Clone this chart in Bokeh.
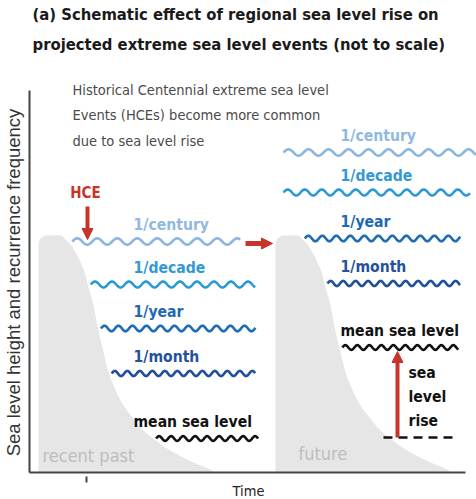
import numpy as np
from bokeh.plotting import figure
from bokeh.models import Range1d, Arrow, NormalHead
from bokeh.core.properties import value
from bokeh.embed import file_html
from bokeh.resources import INLINE

# ---- schematic values (height above the time axis, time along it) ----
levels = ["1/century", "1/decade", "1/year", "1/month", "mean sea level"]
past_height = [231, 188, 144, 99, 34]
future_height = [320, 280, 234, 189, 125]
old_mean_sea_level = 35
hce_height = 231
time_tick = [57]

# ---- styling ----
NARROW = "DejaVu Sans Condensed, Roboto Condensed, Roboto"
SANS = "Liberation Sans"
RED = "#c8342a"
wave_colors = ["#8cb6e1", "#2c9ad6", "#1f6cb3", "#224f9b", "#111111"]
label_colors = ["#8fb8e2", "#3399d6", "#1e69b1", "#24519d", "#111111"]
wave_length = [20, 17, 14, 12.5, 12]
wave_amp = [3.2, 3.0, 2.8, 2.6, 2.4]
past_end = [211, 226, 226, 226, 229]
future_end = [447, 441, 431, 431, 429]
SHADE = "#e6e6e6"
LABEL_SIZE = "15.6px"

p = figure(width=476, height=499, x_range=Range1d(-29, 447), y_range=Range1d(-27, 472),
           x_axis_type=None, y_axis_type=None, toolbar_location=None,
           output_backend="svg", min_border=0, outline_line_color=None)
p.grid.visible = False

# ---- grey "distribution" humps for the two periods ----
top = 237
prof_t = [0, 0.02, 0.077, 0.15, 0.22, 0.29, 0.365, 0.44, 0.51, 0.58, 0.655, 0.72,
          0.79, 0.83, 0.91, 0.97, 1.0]
prof_off = [20, 30, 38, 46, 50, 55, 58, 62, 66, 70, 77, 85, 98, 106, 132, 160, 182]


def edge(left, h):
    t = (top - h) / top
    return left + np.interp(t, prof_t, prof_off)


def hump(left):
    r = 9
    ang = np.linspace(np.pi, np.pi / 2, 12)
    xs = [left]
    ys = [0]
    xs += list(left + r + r * np.cos(ang))
    ys += list(top - r + r * np.sin(ang))
    t = np.linspace(0, 1, 160)
    off = np.interp(t, prof_t, prof_off)
    k = np.ones(9) / 9
    off_s = np.convolve(np.pad(off, 4, mode="edge"), k, mode="valid")
    xs += list(left + off_s)
    ys += list(top * (1 - t))
    return xs, ys


panels = [9, 246]
for left in panels:
    hx, hy = hump(left)
    p.patch(hx, hy, fill_color=SHADE, line_color=None)

p.text(x=[13, 269], y=[17, 19], text=["recent past", "future"], text_font=value(NARROW),
       text_font_size="18px", text_color="#bdbdbd", text_baseline="middle")

# ---- axes ----
p.line([0, 0], [0, 382], line_color="#444444", line_width=2)
p.line([0, 436], [0, 0], line_color="#444444", line_width=2)
p.segment(x0=time_tick, y0=[-4], x1=time_tick, y1=[-10], line_color="#444444", line_width=2)
p.text(x=[219], y=[-18], text=["Time"], text_font=value(NARROW), text_font_size="14.5px",
       text_color="#222222", text_align="center", text_baseline="middle")
p.text(x=[-16], y=[190], text=["Sea level height and recurrence frequency"], angle=np.pi / 2,
       text_font=value(SANS), text_font_size="18.5px", text_color="#333333",
       text_align="center", text_baseline="middle")


# ---- waves and labels ----
def wave(x0, x1, h, wl, amp):
    x = np.arange(x0, x1, 0.5)
    return x, h + amp * np.sin(2 * np.pi * (x - x0) / wl)


for i, name in enumerate(levels):
    for left, heights, ends, lx in ((panels[0], past_height, past_end, 104),
                                    (panels[1], future_height, future_end, 311)):
        h = heights[i]
        x0 = max(left + 8, edge(left, h) + 3) if h < top else left + 8
        wx, wy = wave(x0, ends[i], h, wave_length[i], wave_amp[i])
        p.line(wx, wy, line_color=wave_colors[i], line_width=2.6)
        p.text(x=[lx], y=[h + 17], text=[name], text_font=value(NARROW),
               text_font_size=LABEL_SIZE, text_font_style="bold", text_color=label_colors[i],
               text_baseline="middle")

# previous mean sea level and the rise
p.line([354, 428], [old_mean_sea_level, old_mean_sea_level], line_color="#111111",
       line_width=2.4, line_dash="9 6")
p.add_layout(Arrow(end=NormalHead(size=11, fill_color=RED, line_color=RED),
                   x_start=368, y_start=old_mean_sea_level, x_end=368, y_end=future_height[-1] - 4,
                   line_color=RED, line_width=4))
p.text(x=[379, 379, 379], y=[100, 76, 52], text=["sea", "level", "rise"],
       text_font=value(NARROW), text_font_size=LABEL_SIZE, text_font_style="bold",
       text_color="#111111", text_baseline="middle")

# HCE marker and shift arrow
p.text(x=[56], y=[280], text=["HCE"], text_font=value(NARROW), text_font_size="15px",
       text_font_style="bold", text_color=RED, text_align="center", text_baseline="middle")
p.add_layout(Arrow(end=NormalHead(size=11, fill_color=RED, line_color=RED),
                   x_start=58, y_start=266, x_end=58, y_end=hce_height + 2,
                   line_color=RED, line_width=4))
p.add_layout(Arrow(end=NormalHead(size=11, fill_color=RED, line_color=RED),
                   x_start=216, y_start=229, x_end=243, y_end=229,
                   line_color=RED, line_width=5))

# ---- title and note ----
p.text(x=[3, 3], y=[458, 428],
       text=["(a) Schematic effect of regional sea level rise on",
             "projected extreme sea level events (not to scale)"],
       text_font=value(NARROW), text_font_size="16.5px", text_font_style="bold",
       text_color="#1a1a1a", text_baseline="middle")
p.text(x=[43, 43, 43], y=[383, 358, 332],
       text=["Historical Centennial extreme sea level",
             "Events (HCEs) become more common",
             "due to sea level rise"],
       text_font=value(NARROW), text_font_size="14.5px", text_color="#4a4a4a",
       text_baseline="middle")

open("out.html", "w").write(file_html(p, INLINE))
